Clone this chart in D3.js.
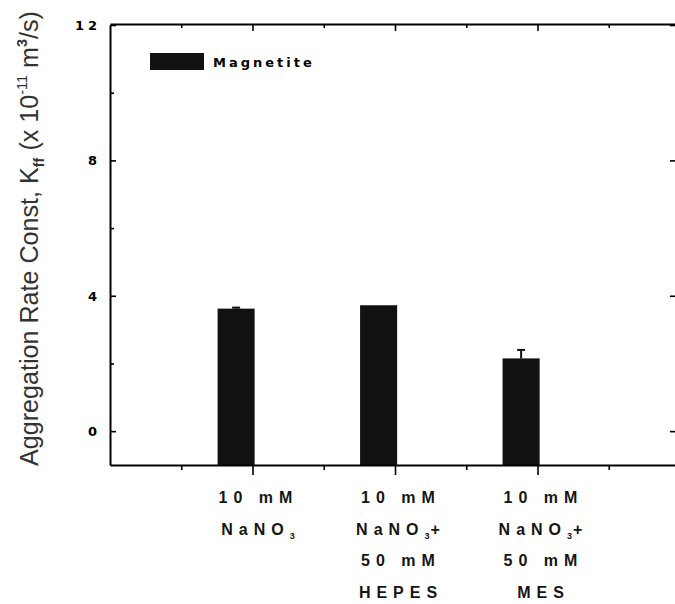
<!DOCTYPE html>
<html>
<head>
<meta charset="utf-8">
<script src="https://cdn.jsdelivr.net/npm/d3@7"></script>
<style>
  body { margin: 0; background: #fff; }
  svg { display: block; }
  .tick-label { font-family: "DejaVu Sans", sans-serif; font-weight: bold; font-size: 13px; }
  .cat-label { font-family: "Liberation Sans", sans-serif; font-size: 16px; font-weight: bold; white-space: pre; letter-spacing: 6px; fill: #151515; }
</style>
</head>
<body>
<svg id="chart"></svg>
<script>
document.addEventListener("DOMContentLoaded", function() {
  const width = 675;
  const height = 604;

  // data
  const categories = [
    ["10 mM", "NaNO|3"],
    ["10 mM", "NaNO|3+", "50 mM", "HEPES"],
    ["10 mM", "NaNO|3+", "50 mM", "MES"]
  ];
  const positions = [1, 2, 3];
  const values = [3.62, 3.72, 2.15];
  const errors = [0.03, 0, 0.25];
  const yTicks = [0, 4, 8, 12];
  const yMinor = [2, 6, 10];
  const xMinor = [0.5, 1.5, 2.5, 3.5];
  const seriesName = "Magnetite";

  const left = 110, right = 680, top = 24, bottom = 465;

  let svg = d3.select("#chart")
              .attr("width", width)
              .attr("height", height);

  let x = d3.scaleLinear().domain([0, 4]).range([left, right]);
  let y = d3.scaleLinear().domain([-1, 12]).range([bottom, top + 1]);

  // bars
  svg.append("g")
    .selectAll("rect")
    .data(values)
    .enter()
    .append("rect")
      .attr("x", (d, i) => x(positions[i] - 0.245))
      .attr("y", d => y(d))
      .attr("width", x(0.26) - x(0))
      .attr("height", d => y(-1) - y(d))
      .attr("fill", "#111");

  // error bars
  let err = svg.append("g").attr("stroke", "#111").attr("stroke-width", 2);
  values.forEach((v, i) => {
    if (!errors[i]) return;
    let cx = x(positions[i] - 0.115);
    err.append("line")
      .attr("x1", cx).attr("x2", cx)
      .attr("y1", y(v)).attr("y2", y(v + errors[i]));
    err.append("line")
      .attr("x1", cx - 4).attr("x2", cx + 4)
      .attr("y1", y(v + errors[i])).attr("y2", y(v + errors[i]));
  });

  // axes frame
  let axisStyle = g => g.call(g => g.select(".domain").attr("stroke-width", 2))
                        .call(g => g.selectAll(".tick line").attr("stroke-width", 1.6));

  svg.append("g")
    .attr("transform", `translate(${left},0)`)
    .call(d3.axisRight(y).tickValues(yTicks).tickSize(6).tickSizeOuter(0).tickFormat(""))
    .call(axisStyle);
  svg.append("g")
    .attr("transform", `translate(${left},0)`)
    .call(d3.axisRight(y).tickValues(yMinor).tickSize(4).tickSizeOuter(0).tickFormat(""))
    .call(g => g.select(".domain").remove())
    .call(axisStyle);
  svg.append("g")
    .attr("transform", `translate(${right - 4},0)`)
    .call(d3.axisLeft(y).tickValues(yTicks).tickSize(6).tickSizeOuter(0).tickFormat(""))
    .call(axisStyle);

  svg.append("g")
    .attr("transform", `translate(0,${bottom})`)
    .call(d3.axisBottom(x).tickValues(positions).tickSize(10).tickSizeOuter(0).tickFormat(""))
    .call(axisStyle);
  svg.append("g")
    .attr("transform", `translate(0,${bottom})`)
    .call(d3.axisBottom(x).tickValues(xMinor).tickSize(5).tickSizeOuter(0).tickFormat(""))
    .call(g => g.select(".domain").remove())
    .call(axisStyle);

  svg.append("g")
    .attr("transform", `translate(0,${top})`)
    .call(d3.axisBottom(x).tickValues(positions).tickSize(7).tickSizeOuter(0).tickFormat(""))
    .call(axisStyle);
  svg.append("g")
    .attr("transform", `translate(0,${top})`)
    .call(d3.axisBottom(x).tickValues(xMinor).tickSize(4).tickSizeOuter(0).tickFormat(""))
    .call(g => g.select(".domain").remove())
    .call(axisStyle);

  // y tick labels
  svg.append("g")
    .selectAll("text")
    .data(yTicks)
    .enter()
    .append("text")
      .classed("tick-label", true)
      .attr("x", left - 9)
      .attr("y", d => y(d) + 5)
      .attr("text-anchor", "end")
      .style("letter-spacing", "4px")
      .text(d => d);

  // category labels
  categories.forEach((lines, i) => {
    let cx = x(positions[i]) + 6;
    let t = svg.append("text")
      .classed("cat-label", true)
      .attr("text-anchor", "middle")
      .attr("x", cx)
      .attr("y", 503);
    lines.forEach((line, j) => {
      let parts = line.split("|");
      t.append("tspan")
        .attr("x", cx)
        .attr("y", 503 + j * 31.5)
        .text(parts[0]);
      if (parts[1]) {
        let sub = parts[1].slice(0, 1), rest = parts[1].slice(1);
        t.append("tspan").attr("dy", 4).style("font-size", "9px").style("letter-spacing", "1px").text(sub);
        if (rest) t.append("tspan").attr("dy", -4).text(rest);
      }
    });
  });

  // legend
  let legend = svg.append("g");
  legend.append("rect")
    .attr("x", 150).attr("y", 53)
    .attr("width", 54).attr("height", 17)
    .attr("fill", "#111");
  legend.append("text")
    .classed("tick-label", true)
    .attr("x", 213).attr("y", 67)
    .style("letter-spacing", "3px")
    .style("font-size", "13px")
    .text(seriesName);

  // y axis title
  let title = svg.append("text")
    .attr("transform", "translate(38,466) rotate(-90)")
    .style("font-family", "'Liberation Sans Narrow', 'Liberation Sans', sans-serif")
    .style("font-size", "26px")
    .style("font-weight", "300")
    .attr("fill", "#333")
    .attr("textLength", 455)
    .attr("lengthAdjust", "spacingAndGlyphs");
  title.append("tspan").text("Aggregation Rate Const, K");
  title.append("tspan").attr("dy", 6).style("font-size", "15px").style("font-weight", "bold").text("ff");
  title.append("tspan").attr("dy", -6).text(" (x 10");
  title.append("tspan").attr("dy", -11).style("font-size", "15px").text("-11");
  title.append("tspan").attr("dy", 11).text(" m");
  title.append("tspan").attr("dy", -11).style("font-size", "15px").style("font-weight", "bold").text("3");
  title.append("tspan").attr("dy", 11).text("/s)");
});
</script>
</body>
</html>
